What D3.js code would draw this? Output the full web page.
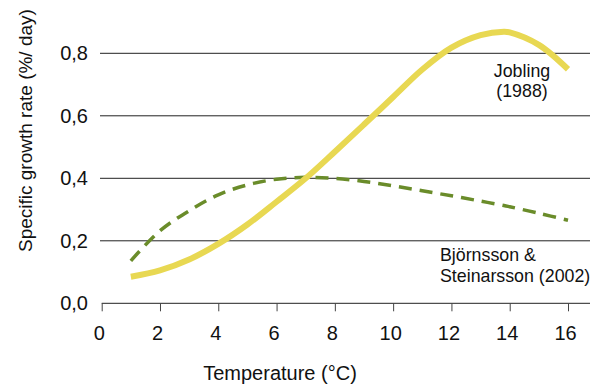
<!DOCTYPE html>
<html lang="en">
<head>
    <meta charset="UTF-8">
    <title>Specific growth rate</title>
    <script src="https://d3js.org/d3.v7.min.js"></script>
    <style>
        body { margin: 0; background: #fff; }
        svg { display: block; font-family: "Liberation Sans", Arial, sans-serif; }
    </style>
</head>
<body>
    <div id="chart"></div>
    <script>
        const temps = [1, 2, 3, 4, 5, 6, 7, 8, 9, 10, 11, 12, 13, 13.8, 14, 15, 16];
        // Jobling (1988)
        const jobling = [0.085, 0.105, 0.14, 0.19, 0.252, 0.325, 0.40, 0.485, 0.572, 0.66, 0.748, 0.818, 0.858, 0.869, 0.867, 0.827, 0.749];
        // Björnsson & Steinarsson (2002)
        const bjornsson = [0.136, 0.232, 0.296, 0.347, 0.379, 0.397, 0.403, 0.40, 0.39, 0.376, 0.36, 0.344, 0.327, 0.313, 0.309, 0.288, 0.266];

        const xTicks = [0, 2, 4, 6, 8, 10, 12, 14, 16];
        const yTicks = [0, 0.2, 0.4, 0.6, 0.8];
        const yTickLabels = ["0,0", "0,2", "0,4", "0,6", "0,8"];

        const width = 596, height = 385;

        const svg = d3.select("#chart").append("svg")
            .attr("width", width)
            .attr("height", height);

        const x = d3.scaleLinear().domain([0, 16]).range([101.7, 568]);
        const y = d3.scaleLinear().domain([0, 0.8]).range([303.3, 53.3]);

        // horizontal gridlines
        svg.append("g")
            .selectAll("line")
            .data(yTicks.slice(1))
            .join("line")
            .attr("x1", 100)
            .attr("x2", 590)
            .attr("y1", d => y(d))
            .attr("y2", d => y(d))
            .attr("stroke", "#222")
            .attr("stroke-width", 1);

        // y tick labels
        svg.append("g")
            .selectAll("text")
            .data(yTicks)
            .join("text")
            .attr("x", 88)
            .attr("y", d => y(d))
            .attr("dy", "0.35em")
            .attr("text-anchor", "end")
            .attr("font-size", 20)
            .attr("fill", "#111")
            .text((d, i) => yTickLabels[i]);

        // x axis
        const xAxis = svg.append("g")
            .attr("transform", `translate(0,${y(0)})`)
            .call(d3.axisBottom(x).tickValues(xTicks).tickSize(8).tickSizeOuter(0).tickPadding(15).tickFormat(d3.format("d")));
        xAxis.select(".domain").attr("d", `M${x(0)},0H590`).attr("stroke", "#222");
        xAxis.selectAll(".tick line").attr("stroke", "#444");
        xAxis.selectAll(".tick text")
            .attr("dx", -3)
            .attr("font-size", 20)
            .attr("font-family", "Liberation Sans, Arial, sans-serif")
            .attr("fill", "#111");

        const line = d3.line()
            .x(d => x(d[0]))
            .y(d => y(d[1]))
            .curve(d3.curveCatmullRom.alpha(0.5));

        // Björnsson & Steinarsson dashed curve
        svg.append("path")
            .datum(temps.map((t, i) => [t, bjornsson[i]]))
            .attr("d", line)
            .attr("fill", "none")
            .attr("stroke", "#6a8c2a")
            .attr("stroke-width", 3.5)
            .attr("stroke-dasharray", "13,8");

        // Jobling curve
        svg.append("path")
            .datum(temps.map((t, i) => [t, jobling[i]]))
            .attr("d", line)
            .attr("fill", "none")
            .attr("stroke", "#e8d852")
            .attr("stroke-width", 6);

        // curve labels
        const lab = svg.append("g")
            .attr("font-size", 17.8)
            .attr("fill", "#111");
        lab.append("text").attr("x", 522).attr("y", 76.7).attr("text-anchor", "middle").text("Jobling");
        lab.append("text").attr("x", 522).attr("y", 97).attr("text-anchor", "middle").text("(1988)");
        lab.append("text").attr("x", 440).attr("y", 260.7).text("Björnsson &");
        lab.append("text").attr("x", 440).attr("y", 281.7).text("Steinarsson (2002)");

        // axis titles
        svg.append("text")
            .attr("x", 280)
            .attr("y", 380)
            .attr("text-anchor", "middle")
            .attr("font-size", 20)
            .attr("fill", "#111")
            .text("Temperature (°C)");

        svg.append("text")
            .attr("transform", "translate(32,252) rotate(-90)")
            .attr("font-size", 19)
            .attr("fill", "#111")
            .text("Specific growth rate  (%/ day)");
    </script>
</body>
</html>
